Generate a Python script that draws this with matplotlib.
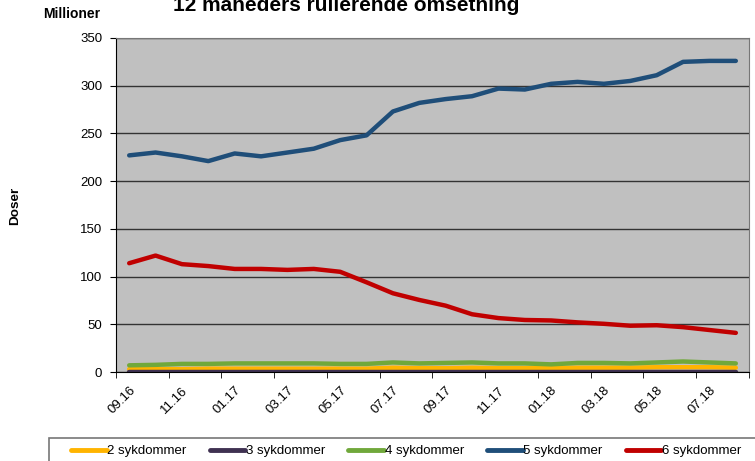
import matplotlib
matplotlib.use("Agg")
import matplotlib.pyplot as plt
from matplotlib.patches import Rectangle
from matplotlib.ticker import FixedLocator, NullFormatter

plt.rcParams["font.family"] = ["Liberation Sans", "DejaVu Sans"]

# ----------------------------------------------------------
# DATA (millioner doser, 12 mnd rullerende)
# ----------------------------------------------------------
maaneder = ["09.16", "10.16", "11.16", "12.16", "01.17", "02.17", "03.17", "04.17",
            "05.17", "06.17", "07.17", "08.17", "09.17", "10.17", "11.17", "12.17",
            "01.18", "02.18", "03.18", "04.18", "05.18", "06.18", "07.18", "08.18"]

syk2 = [3.0, 3.0, 3.0, 3.5, 3.5, 3.5, 3.5, 3.5, 3.5, 3.5, 4.5, 4.0,
        4.0, 4.5, 4.0, 4.0, 4.0, 4.5, 4.5, 4.5, 5.0, 5.0, 5.0, 4.5]
syk3 = [0.4, 0.4, 0.4, 0.4, 0.4, 0.4, 0.4, 0.4, 0.4, 0.4, 0.4, 0.4,
        0.4, 0.4, 0.4, 0.4, 0.4, 0.4, 0.4, 0.4, 0.4, 0.4, 0.4, 0.4]
syk4 = [7.0, 7.5, 8.5, 8.5, 9.0, 9.0, 9.0, 9.0, 8.5, 8.5, 10.0, 9.0,
        9.5, 10.0, 9.0, 9.0, 8.0, 9.5, 9.5, 9.0, 10.0, 11.0, 10.0, 9.0]
syk5 = [227, 230, 226, 221, 229, 226, 230, 234, 243, 248, 273, 282,
        286, 289, 297, 296, 302, 304, 302, 305, 311, 325, 326, 326]
syk6 = [114, 122, 113, 111, 108, 108, 107, 108, 105, 94, 82.5, 75.5,
        69.5, 60.5, 56.5, 54.5, 54, 52, 50.5, 48.5, 49, 47, 44, 41]

serier = [
    ("2 sykdommer", syk2, "#FFB400"),
    ("3 sykdommer", syk3, "#3F3151"),
    ("4 sykdommer", syk4, "#70A83B"),
    ("5 sykdommer", syk5, "#1F4E79"),
    ("6 sykdommer", syk6, "#C00000"),
]

# ----------------------------------------------------------
# FIGUR
# ----------------------------------------------------------
B, H = 755, 461
fig = plt.figure(figsize=(B / 100, H / 100), dpi=100)
ax = fig.add_axes([116 / B, 1 - 372 / H, (749 - 116) / B, (372 - 38) / H])
ax.set_facecolor("#C0C0C0")

x = list(range(len(maaneder)))
for navn, verdier, farge in serier:
    ax.plot(x, verdier, color=farge, linewidth=3.2, label=navn,
            solid_capstyle="round", solid_joinstyle="round")

ax.set_xlim(-0.5, len(maaneder) - 0.5)
ax.set_ylim(0, 350)
ax.set_yticks(range(0, 351, 50))
ax.grid(axis="y", color="#333333", linewidth=1.0)
ax.set_axisbelow(True)

# etiketter annenhver måned, tick-streker på kategorigrensene
ax.set_xticks(x[::2])
ax.set_xticklabels(maaneder[::2], rotation=45, ha="right", rotation_mode="anchor",
                   fontsize=9.5)
ax.tick_params(axis="x", which="major", length=0, pad=9)
ax.xaxis.set_minor_locator(FixedLocator([i - 0.5 for i in range(0, len(maaneder) + 1, 2)]))
ax.xaxis.set_minor_formatter(NullFormatter())
ax.tick_params(axis="x", which="minor", length=4, color="black")
ax.tick_params(axis="y", length=4, labelsize=9.5, pad=6)

for side in ["top", "right"]:
    ax.spines[side].set_color("#777777")
ax.spines["left"].set_color("black")
ax.spines["bottom"].set_color("black")

# titler (tittelen er delvis kuttet øverst, som i originalen)
fig.text(346 / B, 1 - 11 / H, "12 måneders rullerende omsetning",
         ha="center", va="baseline", fontsize=15, fontweight="bold")
fig.text(71.5 / B, 1 - 14.5 / H, "Millioner", ha="center", va="center",
         fontsize=10, fontweight="bold")
fig.text(15.5 / B, 1 - 206 / H, "Doser", ha="center", va="center",
         rotation=90, fontsize=9.7, fontweight="bold")

# legendeboks nederst (går ut over bildekanten)
fig.patches.append(Rectangle((49 / B, -0.05), 0.99 - 49 / B + 0.05, 0.05 + 1 - 438 / H,
                             transform=fig.transFigure, facecolor="white",
                             edgecolor="#777777", linewidth=1.2, zorder=0))
leg = fig.legend(loc="center left", bbox_to_anchor=(71 / B, 1 - 451 / H),
                 ncol=5, fontsize=9.5, frameon=False,
                 handlelength=2.7, handletextpad=0.05, borderpad=0,
                 columnspacing=1.75, borderaxespad=0)
for linje in leg.get_lines():
    linje.set_linewidth(3.5)

fig.savefig("out.png", dpi=100)
